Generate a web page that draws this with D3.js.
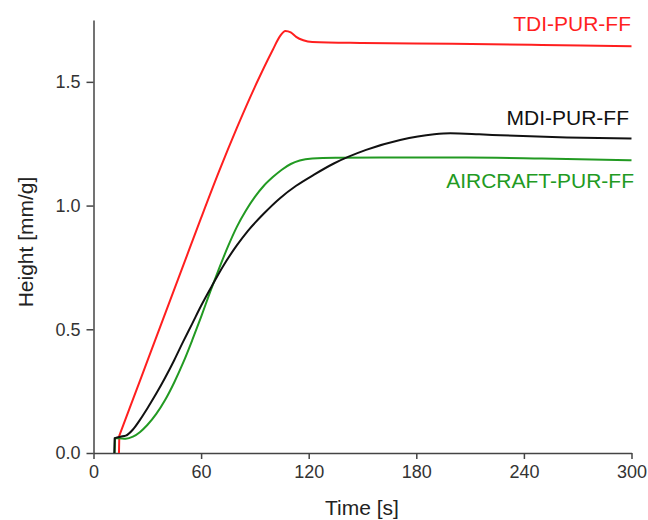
<!DOCTYPE html>
<html>
<head>
<meta charset="utf-8">
<script src="https://cdn.jsdelivr.net/npm/d3@7"></script>
<style>
  body { margin: 0; background: #fff; }
  text { font-family: "Liberation Sans", Arial, sans-serif; }
</style>
</head>
<body>
<div id="chart"></div>
<script>
// time [s] / height [mm/g]
const tdiTime   = [14.2, 14.4, 20, 30, 40, 50, 60, 70, 80, 90, 100, 104, 107, 110, 113, 117, 122, 150, 200, 250, 300];
const tdiHeight = [0, 0.07, 0.178, 0.371, 0.564, 0.757, 0.95, 1.138, 1.315, 1.48, 1.63, 1.685, 1.706, 1.70, 1.682, 1.668, 1.661, 1.657, 1.654, 1.649, 1.644];

const mdiTime   = [11.6, 11.8, 15, 18, 22, 26, 30, 35, 40, 45, 50, 55, 60, 66, 72, 80, 86, 95, 104, 113, 123, 134, 152, 171, 190, 199, 215, 227, 264, 300];
const mdiHeight = [0, 0.06, 0.066, 0.07, 0.095, 0.135, 0.18, 0.24, 0.305, 0.375, 0.45, 0.522, 0.595, 0.675, 0.752, 0.84, 0.897, 0.968, 1.03, 1.08, 1.125, 1.17, 1.225, 1.265, 1.288, 1.292, 1.288, 1.284, 1.275, 1.271];

const airTime   = [11.8, 12, 14, 18, 22, 26, 30, 35, 40, 45, 50, 55, 60, 65, 70, 75, 80, 85, 90, 95, 100, 105, 110, 115, 122, 135, 160, 208, 250, 300];
const airHeight = [0, 0.06, 0.06, 0.058, 0.066, 0.085, 0.113, 0.158, 0.215, 0.285, 0.365, 0.455, 0.55, 0.65, 0.745, 0.835, 0.915, 0.98, 1.035, 1.08, 1.115, 1.145, 1.168, 1.182, 1.19, 1.193, 1.194, 1.194, 1.19, 1.183];

const xTicks = [0, 60, 120, 180, 240, 300];
const yTicks = [0, 0.5, 1.0, 1.5];

const series = [
  { name: "TDI-PUR-FF", time: tdiTime, height: tdiHeight, color: "#ff1f1f", lx: 631, ly: 31 },
  { name: "AIRCRAFT-PUR-FF", time: airTime, height: airHeight, color: "#229a22", lx: 634, ly: 188 },
  { name: "MDI-PUR-FF", time: mdiTime, height: mdiHeight, color: "#111", lx: 629, ly: 125 }
];

const width = 648, height = 520;
const svg = d3.select("#chart").append("svg")
  .attr("width", width)
  .attr("height", height);

const x = d3.scaleLinear().domain([0, 300]).range([93.5, 631.5]);
const y = d3.scaleLinear().domain([0, 1.75]).range([453, 20]);

const axisColor = "#444";

// x axis
const gx = svg.append("g")
  .attr("transform", `translate(0,${y(0)})`)
  .call(d3.axisBottom(x).tickValues(xTicks).tickFormat(d3.format("d")).tickSize(6).tickPadding(6).tickSizeOuter(0));

// y axis
const gy = svg.append("g")
  .attr("transform", `translate(${x(0)},0)`)
  .call(d3.axisLeft(y).tickValues(yTicks).tickFormat(d3.format(".1f")).tickSize(7).tickPadding(6).tickSizeOuter(0));

[gx, gy].forEach(g => {
  g.select(".domain").attr("stroke", axisColor).attr("stroke-width", 1.5);
  g.selectAll(".tick line").attr("stroke", axisColor).attr("stroke-width", 1.5);
  g.selectAll(".tick text")
    .attr("fill", "#333")
    .style("font-size", "18px")
    .style("font-family", "'Liberation Sans', Arial, sans-serif");
});

// axis titles
svg.append("text")
  .attr("x", 362)
  .attr("y", 515)
  .attr("text-anchor", "middle")
  .attr("fill", "#222")
  .style("font-size", "21px")
  .text("Time [s]");

svg.append("text")
  .attr("transform", "translate(33,242) rotate(-90)")
  .attr("text-anchor", "middle")
  .attr("fill", "#222")
  .style("font-size", "21px")
  .text("Height [mm/g]");

// lines: the initial jump is a straight segment, the rest is smoothed
const line = d3.line()
  .x(d => x(d[0]))
  .y(d => y(d[1]))
  .curve(d3.curveMonotoneX);

series.forEach(s => {
  const pts = s.time.map((t, i) => [t, s.height[i]]);
  const d = `M${x(pts[0][0])},${y(pts[0][1])}L` + line(pts.slice(1)).slice(1);
  svg.append("path")
    .attr("fill", "none")
    .attr("stroke", s.color)
    .attr("stroke-width", 2)
    .attr("stroke-linejoin", "round")
    .attr("d", d);

  svg.append("text")
    .attr("x", s.lx)
    .attr("y", s.ly)
    .attr("text-anchor", "end")
    .attr("fill", s.color)
    .style("font-size", "21px")
    .text(s.name);
});
</script>
</body>
</html>
